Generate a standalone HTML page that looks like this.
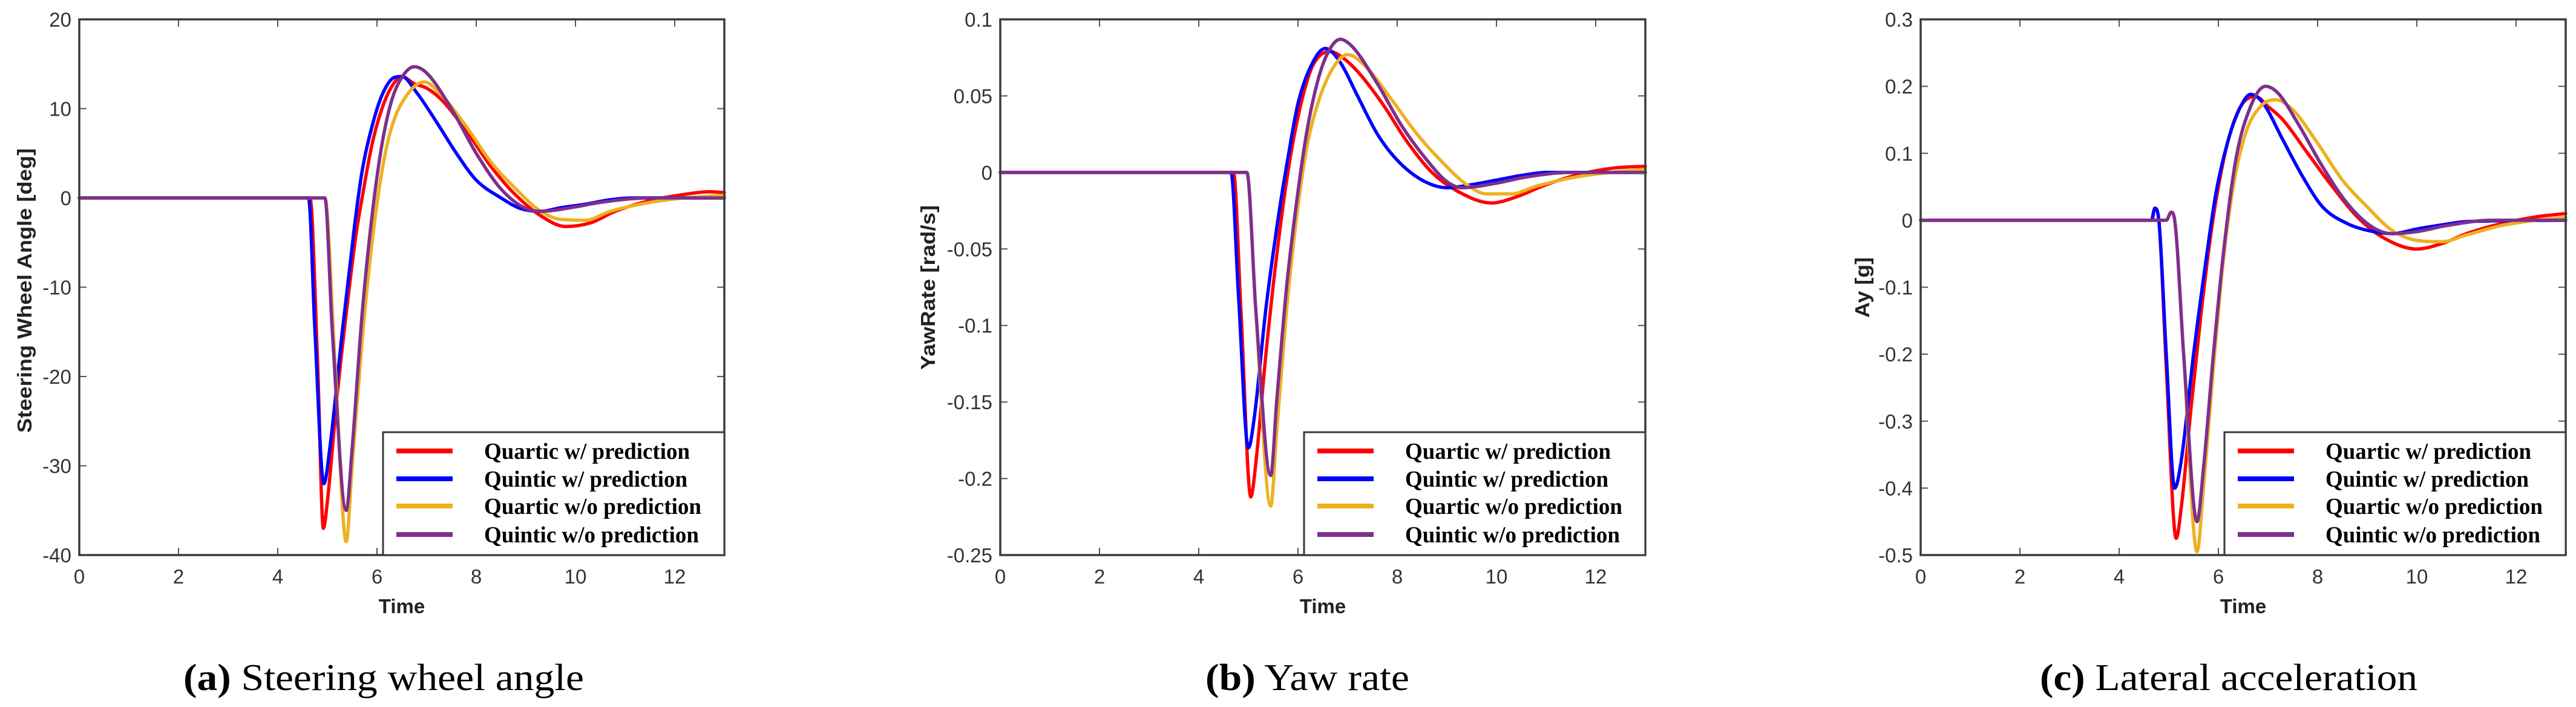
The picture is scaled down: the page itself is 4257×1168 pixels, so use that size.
<!DOCTYPE html>
<html><head><meta charset="utf-8"><style>
html,body{margin:0;padding:0;background:#fff;}
svg{display:block;}
</style></head><body>
<svg id="fig" width="4257" height="1168" viewBox="0 0 4257 1168" xmlns="http://www.w3.org/2000/svg"></svg>
<script>
// ---------- Data ----------
const xTicks = [0, 2, 4, 6, 8, 10, 12];
const legendLabels = ["Quartic w/ prediction", "Quintic w/ prediction", "Quartic w/o prediction", "Quintic w/o prediction"];
const seriesColors = ["#ff0000", "#0000ff", "#edb120", "#7e2f8e"];

// (a) steering wheel angle
const aTicks = [-40, -30, -20, -10, 0, 10, 20];
const aRedT = [0,4.65,4.8,4.92,5.0,5.2,5.4,5.58,5.7,5.9,6.1,6.3,6.5,6.75,7.0,7.3,7.8,8.3,8.8,9.3,9.8,10.3,10.8,11.5,12.2,12.7,13];
const aRedV = [0,0,-18,-37,-34,-22,-12,-4,0,6,10,12.5,13.6,12.8,12.3,11,7.5,3.5,0.3,-2,-3.2,-2.8,-1.5,-0.3,0.4,0.7,0.6];
const aBlueT = [0,4.62,4.75,4.93,5.05,5.3,5.55,5.7,5.9,6.1,6.35,6.5,6.8,7.2,7.6,8.0,8.5,8.9,9.3,9.7,10.2,10.7,11.2,13];
const aBlueV = [0,0,-15,-32,-28,-15,-3,3,8,11.5,13.5,13.6,11.8,8.5,5,2,0,-1.2,-1.5,-1.1,-0.7,-0.2,0,0];
const aOrangeT = [0,4.95,5.15,5.38,5.5,5.7,5.9,6.1,6.3,6.6,6.95,7.3,7.8,8.3,8.8,9.3,9.7,10.2,10.7,11.5,12.2,13];
const aOrangeV = [0,0,-18,-38.5,-30,-16,-5,3,8,11.5,13,11.5,8,4,1,-1.5,-2.4,-2.5,-1.5,-0.5,0,0.3];
const aPurpleT = [0,4.95,5.1,5.38,5.5,5.7,5.9,6.1,6.3,6.5,6.75,7.0,7.5,8.0,8.5,9.0,9.3,10,10.5,11.5,13];
const aPurpleV = [0,0,-15,-35,-28,-13,-2,6,11,13.5,14.7,14,10,5,1,-1.2,-1.5,-1.0,-0.5,0,0];

// (b) yaw rate
const bTicks = [-0.25, -0.2, -0.15, -0.1, -0.05, 0, 0.05, 0.1];
const bTickLabels = ["-0.25", "-0.2", "-0.15", "-0.1", "-0.05", "0", "0.05", "0.1"];
const bRedT = [0,4.7,4.85,5.05,5.15,5.35,5.55,5.75,5.9,6.1,6.3,6.65,6.9,7.2,7.7,8.2,8.7,9.2,9.9,10.4,11,11.7,12.4,13];
const bRedV = [0,0,-0.09,-0.212,-0.19,-0.12,-0.06,-0.01,0.02,0.05,0.07,0.079,0.075,0.066,0.045,0.02,0,-0.012,-0.02,-0.016,-0.008,-0.001,0.003,0.004];
const bBlueT = [0,4.65,4.8,5.0,5.12,5.35,5.6,5.8,6.0,6.3,6.55,6.85,7.2,7.6,8.0,8.5,9.0,9.5,10,10.5,11,13];
const bBlueV = [0,0,-0.08,-0.18,-0.16,-0.09,-0.03,0.01,0.045,0.072,0.081,0.072,0.05,0.025,0.008,-0.005,-0.01,-0.008,-0.005,-0.002,0,0];
const bOrangeT = [0,4.97,5.15,5.45,5.57,5.77,5.97,6.17,6.4,6.7,7.0,7.4,7.9,8.4,8.9,9.4,9.8,10.3,10.8,11.6,12.3,13];
const bOrangeV = [0,0,-0.09,-0.218,-0.17,-0.09,-0.03,0.015,0.045,0.068,0.077,0.068,0.047,0.025,0.007,-0.008,-0.014,-0.014,-0.009,-0.003,0,0.002];
const bPurpleT = [0,4.97,5.15,5.45,5.57,5.77,5.97,6.17,6.4,6.6,6.85,7.1,7.6,8.1,8.6,9.0,9.3,10,10.6,11.5,13];
const bPurpleV = [0,0,-0.09,-0.198,-0.15,-0.075,-0.02,0.025,0.06,0.078,0.087,0.082,0.058,0.03,0.008,-0.006,-0.01,-0.007,-0.003,0,0];

// (c) lateral acceleration
const cTicks = [-0.5, -0.4, -0.3, -0.2, -0.1, 0, 0.1, 0.2, 0.3];
const cRedT = [0,4.66,4.72,4.8,4.95,5.15,5.25,5.45,5.65,5.85,6.0,6.2,6.45,6.75,7.0,7.3,7.8,8.3,8.8,9.3,10,10.5,11,11.7,12.4,13];
const cRedV = [0,0,0.018,0,-0.22,-0.475,-0.43,-0.28,-0.14,-0.02,0.05,0.12,0.17,0.185,0.17,0.15,0.1,0.05,0.005,-0.025,-0.043,-0.035,-0.02,-0.005,0.005,0.01];
const cBlueT = [0,4.65,4.72,4.8,4.95,5.12,5.25,5.5,5.75,5.95,6.2,6.45,6.65,6.9,7.3,7.7,8.1,8.6,9.0,9.5,10,10.5,11,13];
const cBlueV = [0,0,0.018,0,-0.2,-0.4,-0.36,-0.2,-0.06,0.04,0.12,0.17,0.188,0.175,0.12,0.065,0.02,-0.005,-0.015,-0.02,-0.013,-0.007,-0.002,0];
const cOrangeT = [0,4.95,5.05,5.12,5.3,5.57,5.7,5.9,6.1,6.3,6.55,6.85,7.15,7.5,8.0,8.5,9.0,9.5,10,10.5,11,11.7,12.4,13];
const cOrangeV = [0,0,0.012,0,-0.2,-0.495,-0.4,-0.22,-0.06,0.05,0.13,0.17,0.18,0.165,0.115,0.06,0.02,-0.015,-0.03,-0.032,-0.022,-0.008,0,0.004];
const cPurpleT = [0,4.95,5.05,5.12,5.3,5.57,5.7,5.9,6.1,6.35,6.65,6.95,7.2,7.6,8.1,8.6,9.1,9.5,10,10.6,11.5,13];
const cPurpleV = [0,0,0.012,0,-0.2,-0.45,-0.37,-0.2,-0.05,0.09,0.17,0.2,0.19,0.145,0.08,0.025,-0.01,-0.02,-0.017,-0.008,0,0];

// ---------- Rendering ----------
const NS = "http://www.w3.org/2000/svg";
const svg = document.getElementById("fig");
function mk(tag, attrs, parent) {
  const e = document.createElementNS(NS, tag);
  for (const k in attrs) e.setAttribute(k, attrs[k]);
  (parent || svg).appendChild(e);
  return e;
}
function monoPath(T, V, sx, sy) {
  const n = T.length, d = [], m = [];
  for (let i = 0; i < n - 1; i++) d.push((V[i+1]-V[i])/(T[i+1]-T[i]));
  for (let i = 0; i < n; i++) {
    if (i === 0) m.push(d[0]); else if (i === n-1) m.push(d[n-2]);
    else m.push(d[i-1]*d[i] <= 0 ? 0 : (d[i-1]+d[i])/2);
  }
  for (let i = 0; i < n - 1; i++) {
    if (d[i] === 0) { m[i] = 0; m[i+1] = 0; continue; }
    const a = m[i]/d[i], b = m[i+1]/d[i], s = a*a + b*b;
    if (s > 9) { const t = 3/Math.sqrt(s); m[i] = t*a*d[i]; m[i+1] = t*b*d[i]; }
  }
  let p = "M" + sx(T[0]).toFixed(1) + "," + sy(V[0]).toFixed(1);
  for (let i = 0; i < n - 1; i++) {
    const h = T[i+1]-T[i];
    p += " C" + sx(T[i]+h/3).toFixed(1) + "," + sy(V[i]+m[i]*h/3).toFixed(1) + " " +
         sx(T[i+1]-h/3).toFixed(1) + "," + sy(V[i+1]-m[i+1]*h/3).toFixed(1) + " " +
         sx(T[i+1]).toFixed(1) + "," + sy(V[i+1]).toFixed(1);
  }
  return p;
}

function drawChart(cfg) {
  const L = cfg.left, R = cfg.left + 1066, Tp = 32, B = 917;
  const sx = t => L + t / 13 * (R - L);
  const sy = v => B - (v - cfg.ymin) / (cfg.ymax - cfg.ymin) * (B - Tp);
  const g = mk("g", {});
  
  
  mk("rect", {x: L, y: Tp, width: R-L, height: B-Tp, fill: "#fff"}, g);
  cfg.series.forEach((s, i) => {
    const p = mk("path", {d: monoPath(s[0], s[1], sx, sy), fill: "none", stroke: seriesColors[i], "stroke-width": 5.5, "stroke-linejoin": "round", "stroke-linecap": "round"}, g);
    
    
  });
  const tg = mk("g", {stroke: "#555", "stroke-width": 2}, g);
  xTicks.forEach(t => {
    mk("line", {x1: sx(t), x2: sx(t), y1: B, y2: B-12}, tg);
    mk("line", {x1: sx(t), x2: sx(t), y1: Tp, y2: Tp+12}, tg);
    const tx = mk("text", {x: sx(t), y: 964, "text-anchor": "middle", "font-family": "Liberation Sans, sans-serif", "font-size": 33, fill: "#333"}, g);
    tx.textContent = t;
    
    
  });
  cfg.yticks.forEach((v, i) => {
    mk("line", {x1: L, x2: L+12, y1: sy(v), y2: sy(v)}, tg);
    mk("line", {x1: R, x2: R-12, y1: sy(v), y2: sy(v)}, tg);
    const tx = mk("text", {x: L-13, y: sy(v)+12, "text-anchor": "end", "font-family": "Liberation Sans, sans-serif", "font-size": 33, fill: "#333"}, g);
    tx.textContent = cfg.ylabels ? cfg.ylabels[i] : String(v);
    
    
  });
  const fr = mk("rect", {x: L, y: Tp, width: R-L, height: B-Tp, fill: "none", stroke: "#3a3a3a", "stroke-width": 3.5}, g);
  
  
  const lg = mk("g", {}, g);
  
  
  const lx = L + 502;
  mk("rect", {x: lx, y: 714, width: R-lx, height: B-714, fill: "#fff", stroke: "#3a3a3a", "stroke-width": 3}, lg);
  const rows = [745, 791, 836, 883];
  const widths = [340, 336, 359, 355];
  legendLabels.forEach((lab, i) => {
    const e = mk("g", {}, lg);
    
    
    mk("line", {x1: lx+22, x2: lx+115, y1: rows[i], y2: rows[i], stroke: seriesColors[i], "stroke-width": 8}, e);
    const t = mk("text", {x: lx+167, y: rows[i]+13, "font-family": "Liberation Serif, serif", "font-weight": "bold", "font-size": 38, fill: "#000", textLength: widths[i], lengthAdjust: "spacingAndGlyphs"}, e);
    t.textContent = lab;
  });
  const xt = mk("text", {x: (L+R)/2, y: 1013, "text-anchor": "middle", "font-family": "Liberation Sans, sans-serif", "font-weight": "bold", "font-size": 33, fill: "#222"}, g);
  xt.textContent = "Time";
  
  
  const yt = mk("text", {x: 0, y: 0, transform: "translate(" + cfg.ylx + "," + cfg.lyc + ") rotate(-90)", "text-anchor": "middle", "font-family": "Liberation Sans, sans-serif", "font-weight": "bold", "font-size": 33, fill: "#222", textLength: cfg.ylw, lengthAdjust: "spacingAndGlyphs"}, g);
  yt.textContent = cfg.ylabel;
  
  
  const cp = mk("text", {x: cfg.capX, y: 1140, "font-family": "Liberation Serif, serif", "font-size": 62, fill: "#000", textLength: cfg.capW, lengthAdjust: "spacingAndGlyphs"}, g);
  const b = document.createElementNS(NS, "tspan");
  b.setAttribute("font-weight", "bold");
  b.textContent = cfg.capB;
  cp.appendChild(b);
  cp.appendChild(document.createTextNode(" " + cfg.capT));
  
  
}

drawChart({id: "steering", left: 131, ymin: -40, ymax: 20, yticks: aTicks,
  series: [[aRedT, aRedV], [aBlueT, aBlueV], [aOrangeT, aOrangeV], [aPurpleT, aPurpleV]],
  ylabel: "Steering Wheel Angle [deg]", ylx: 52, lyc: 480, ylw: 470,
  capB: "(a)", capT: "Steering  wheel  angle", capX: 303, capW: 662});
drawChart({id: "yawrate", left: 1653, ymin: -0.25, ymax: 0.1, yticks: bTicks, ylabels: bTickLabels,
  series: [[bRedT, bRedV], [bBlueT, bBlueV], [bOrangeT, bOrangeV], [bPurpleT, bPurpleV]],
  ylabel: "YawRate [rad/s]", ylx: 1545, lyc: 475, ylw: 272,
  capB: "(b)", capT: "Yaw rate", capX: 1992, capW: 337});
drawChart({id: "lateral-accel", left: 3174, ymin: -0.5, ymax: 0.3, yticks: cTicks,
  series: [[cRedT, cRedV], [cBlueT, cBlueV], [cOrangeT, cOrangeV], [cPurpleT, cPurpleV]],
  ylabel: "Ay [g]", ylx: 3089, lyc: 475, ylw: 100,
  capB: "(c)", capT: "Lateral acceleration", capX: 3371, capW: 624});
</script>
</body></html>
